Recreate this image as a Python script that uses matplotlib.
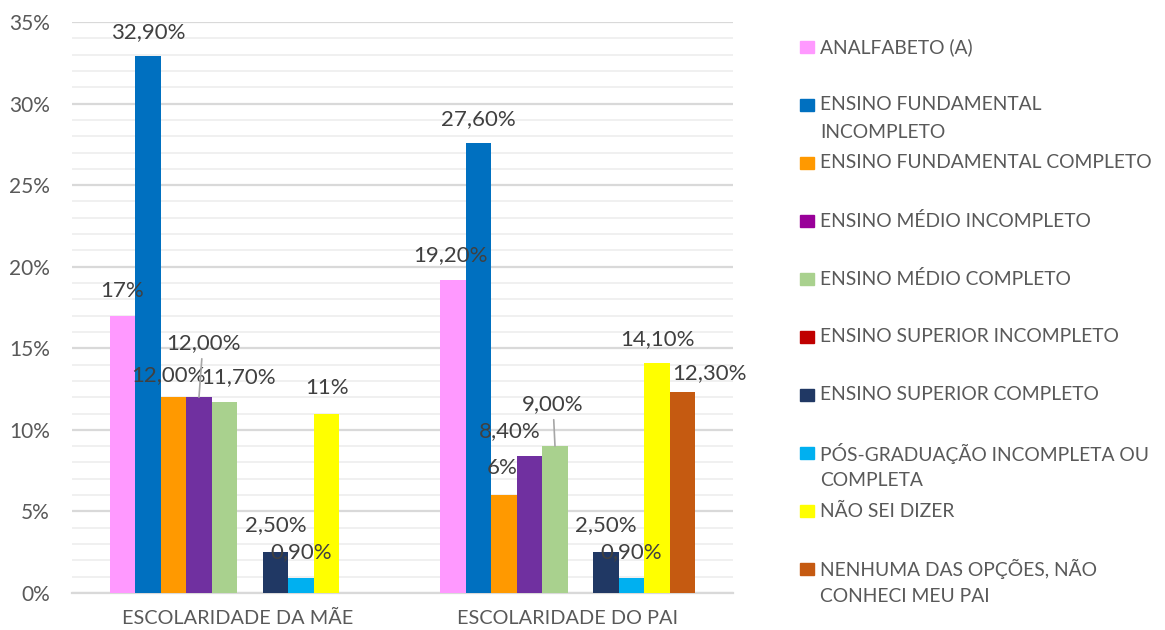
import matplotlib
matplotlib.use("Agg")
import matplotlib.pyplot as plt
from matplotlib.patches import Rectangle
from matplotlib.ticker import MultipleLocator, FuncFormatter
import numpy as np

plt.rcParams["font.family"] = ["Lato", "DejaVu Sans"]

groups = ["ESCOLARIDADE DA MÃE", "ESCOLARIDADE DO PAI"]
series = [
    "ANALFABETO (A)",
    "ENSINO FUNDAMENTAL\nINCOMPLETO",
    "ENSINO FUNDAMENTAL COMPLETO",
    "ENSINO MÉDIO INCOMPLETO",
    "ENSINO MÉDIO COMPLETO",
    "ENSINO SUPERIOR INCOMPLETO",
    "ENSINO SUPERIOR COMPLETO",
    "PÓS-GRADUAÇÃO INCOMPLETA OU\nCOMPLETA",
    "NÃO SEI DIZER",
    "NENHUMA DAS OPÇÕES, NÃO\nCONHECI MEU PAI",
]
mae = [17.0, 32.9, 12.0, 12.0, 11.7, 0.0, 2.5, 0.9, 11.0, 0.0]
pai = [19.2, 27.6, 6.0, 8.4, 9.0, 0.0, 2.5, 0.9, 14.1, 12.3]
mae_labels = ["17%", "32,90%", "12,00%", "12,00%", "11,70%", "", "2,50%", "0,90%", "11%", ""]
pai_labels = ["19,20%", "27,60%", "6%", "8,40%", "9,00%", "", "2,50%", "0,90%", "14,10%", "12,30%"]

colors = ["#FF99FF", "#0070C0", "#FF9900", "#7030A0", "#A9D18E",
          "#C00000", "#203864", "#00B0F0", "#FFFF00", "#C55A11"]
legend_colors = ["#FF99FF", "#0070C0", "#FF9900", "#990099", "#A9D18E",
                 "#C00000", "#203864", "#00B0F0", "#FFFF00", "#C55A11"]

# label placement tweaks (pixels): dx, dy above bar top, leader line
mae_offsets = [(0, 25, False), (0, 24, False), (-5, 22, False), (4, 54, True), (14, 25, False),
               (0, 0, False), (0, 27, False), (0, 26, False), (0, 26, False), (0, 0, False)]
pai_offsets = [(-2, 25, False), (0, 24, False), (-2, 27, False), (-20, 25, False), (-2, 42, True),
               (0, 0, False), (0, 27, False), (0, 26, False), (0, 24, False), (27, 19, False)]

W, H = 1165, 630
fig = plt.figure(figsize=(W / 100, H / 100), dpi=100)
ax = fig.add_axes([72 / W, 1 - 593 / H, (733 - 72) / W, (593 - 22) / H])

n = len(series)
width = 0.0772
x = np.arange(len(groups))
text_color = "#404040"

for i in range(n):
    vals = [mae[i], pai[i]]
    pos = x + (i - (n - 1) / 2) * width
    ax.bar(pos, vals, width, color=colors[i], zorder=3)
    for g, (v, lab, off) in enumerate(zip(vals, [mae_labels[i], pai_labels[i]],
                                          [mae_offsets[i], pai_offsets[i]])):
        if not lab:
            continue
        dx, dy, leader = off
        kw = {}
        if leader:
            kw["arrowprops"] = dict(arrowstyle="-", color="#A6A6A6", lw=1.2,
                                    shrinkA=2, shrinkB=0)
        ax.annotate(lab, xy=(pos[g], v), xytext=(dx * 0.72, dy * 0.72),
                    textcoords="offset points", ha="center", va="center",
                    fontsize=16, color=text_color, zorder=5, **kw)

ax.set_xlim(-0.5, 1.5)
ax.set_ylim(0, 35)
ax.yaxis.set_major_locator(MultipleLocator(5))
ax.yaxis.set_minor_locator(MultipleLocator(1))
ax.yaxis.set_major_formatter(FuncFormatter(lambda v, p: f"{v:.0f}%"))
ax.grid(axis="y", which="major", color="#D9D9D9", lw=1.6, zorder=0)
ax.grid(axis="y", which="minor", color="#EDEDED", lw=1.2, zorder=0)
ax.set_xticks(x)
ax.set_xticklabels(groups)
for s in ["top", "right", "left"]:
    ax.spines[s].set_visible(False)
ax.spines["bottom"].set_color("#D9D9D9")
ax.spines["bottom"].set_linewidth(1.6)
ax.tick_params(axis="y", which="both", length=0, labelsize=15, colors="#595959", pad=16)
ax.tick_params(axis="x", which="both", length=0, labelsize=14.3, colors="#595959", pad=12)

# legend drawn by hand so the slots keep Excel's fixed spacing
for i, (lab, c) in enumerate(zip(series, legend_colors)):
    y0 = 47 + 58 * i
    fig.add_artist(Rectangle((800 / W, 1 - (y0 + 6) / H), 14 / W, 12 / H,
                             transform=fig.transFigure, color=c))
    for j, line in enumerate(lab.split("\n")):
        fig.text(820 / W, 1 - (y0 + 27 * j) / H, line, ha="left", va="center",
                 fontsize=13.9, color="#595959")

fig.savefig("out.png", dpi=100)
